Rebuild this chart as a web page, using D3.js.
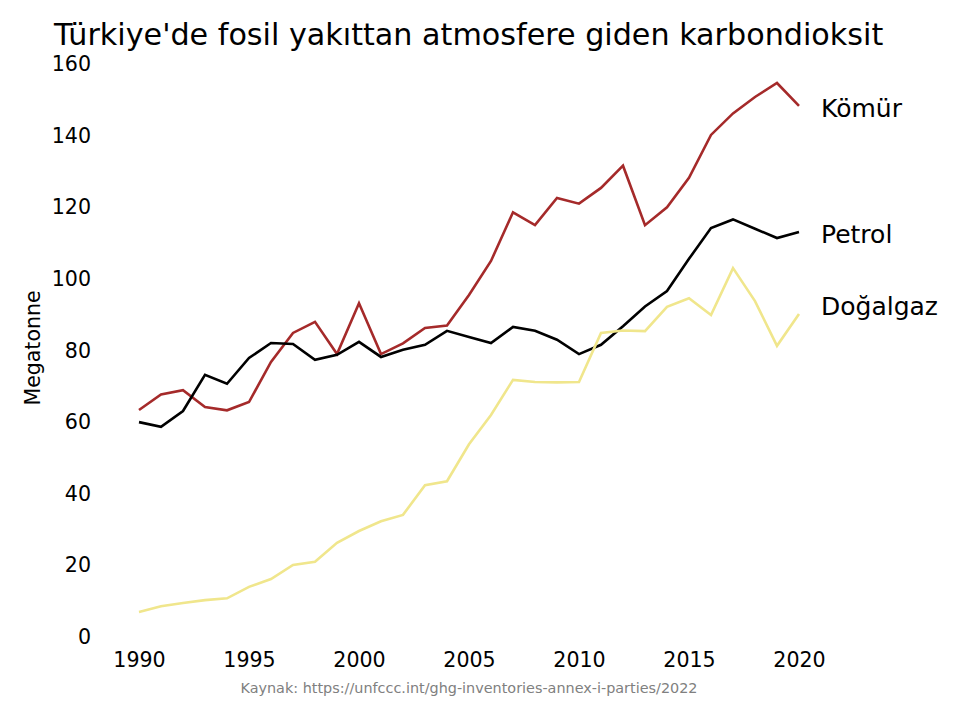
<!DOCTYPE html>
<html>
<head>
<meta charset="utf-8">
<script src="https://cdn.jsdelivr.net/npm/d3@7"></script>
<style>
  body { margin: 0; background: #fff; }
  svg { font-family: "DejaVu Sans", sans-serif; }
</style>
</head>
<body>
<svg id="chart" width="960" height="721"></svg>
<script>
// yıllar ve seriler (Mt CO2)
const years = d3.range(1990, 2021);
const komur = [63.4, 67.7, 68.9, 64.2, 63.3, 65.6, 76.8, 84.9, 88.0, 79.0, 93.2, 79.0, 82.0, 86.3, 87.0,
  95.5, 105.0, 118.6, 115.0, 122.6, 121.0, 125.4, 131.6, 115.0, 120.0, 128.2, 140.2, 146.2, 150.8, 154.7, 148.3];
const petrol = [60.0, 58.7, 63.1, 73.2, 70.7, 77.9, 82.1, 81.8, 77.4, 78.8, 82.4, 78.2, 80.2, 81.6, 85.5,
  83.8, 82.1, 86.6, 85.5, 83.0, 79.0, 81.6, 86.8, 92.3, 96.6, 105.6, 114.2, 116.6, 114.0, 111.4, 113.1];
const dogalgaz = [7.0, 8.6, 9.5, 10.3, 10.8, 14.0, 16.2, 20.1, 21.0, 26.3, 29.6, 32.3, 34.1, 42.4, 43.5,
  53.8, 62.0, 71.8, 71.2, 71.1, 71.2, 84.9, 85.6, 85.4, 92.2, 94.6, 89.9, 103.0, 93.8, 81.3, 90.2];

const seriesNames = ['Kömür', 'Petrol', 'Doğalgaz'];
const seriesColors = ['#a52a2a', '#000000', '#f0e68c'];
const labelValues = [147.6, 112.6, 92.4];
const yTicks = [0, 20, 40, 60, 80, 100, 120, 140, 160];
const xTicks = [1990, 1995, 2000, 2005, 2010, 2015, 2020];

const svg = d3.select('#chart');

const x = d3.scaleLinear().domain([1990, 2020]).range([139, 799]);
const y = d3.scaleLinear().domain([0, 160]).range([637, 64]);

const series = [komur, petrol, dogalgaz].map((vals, i) => ({
  name: seriesNames[i],
  color: seriesColors[i],
  labelY: labelValues[i],
  values: vals.map((v, j) => ({ year: years[j], value: v }))
}));

// Başlık
svg.append('text')
  .attr('x', 54)
  .attr('y', 45)
  .attr('font-size', 30.2)
  .attr('fill', '#000')
  .text("Türkiye'de fosil yakıttan atmosfere giden karbondioksit");

// Eksenler (çizgisiz, sadece etiketler)
const yAxis = svg.append('g')
  .attr('transform', 'translate(96,0)')
  .call(d3.axisLeft(y).tickValues(yTicks).tickSize(0).tickPadding(5));
yAxis.select('.domain').remove();
yAxis.selectAll('text').attr('font-size', 20.6).attr('font-family', 'DejaVu Sans').attr('fill', '#000');

const xAxis = svg.append('g')
  .attr('transform', 'translate(0,648)')
  .call(d3.axisBottom(x).tickValues(xTicks).tickFormat(d3.format('d')).tickSize(0).tickPadding(4));
xAxis.select('.domain').remove();
xAxis.selectAll('text').attr('font-size', 20.6).attr('font-family', 'DejaVu Sans').attr('fill', '#000');

svg.append('text')
  .attr('transform', 'translate(40,348) rotate(-90)')
  .attr('text-anchor', 'middle')
  .attr('font-size', 20.5)
  .text('Megatonne');

// Çizgiler
const line = d3.line()
  .x(d => x(d.year))
  .y(d => y(d.value));

svg.append('g')
  .selectAll('path')
  .data(series)
  .join('path')
  .attr('d', d => line(d.values))
  .attr('fill', 'none')
  .attr('stroke', d => d.color)
  .attr('stroke-width', 2.6)
  .attr('stroke-linejoin', 'miter');

// Seri etiketleri
svg.append('g')
  .selectAll('text')
  .data(series)
  .join('text')
  .attr('x', 821)
  .attr('y', d => y(d.labelY))
  .attr('dy', '0.35em')
  .attr('font-size', 25)
  .text(d => d.name);

// Kaynak
svg.append('text')
  .attr('x', 469)
  .attr('y', 693)
  .attr('text-anchor', 'middle')
  .attr('font-size', 14.4)
  .attr('fill', '#808080')
  .text('Kaynak: https://unfccc.int/ghg-inventories-annex-i-parties/2022');
</script>
</body>
</html>
